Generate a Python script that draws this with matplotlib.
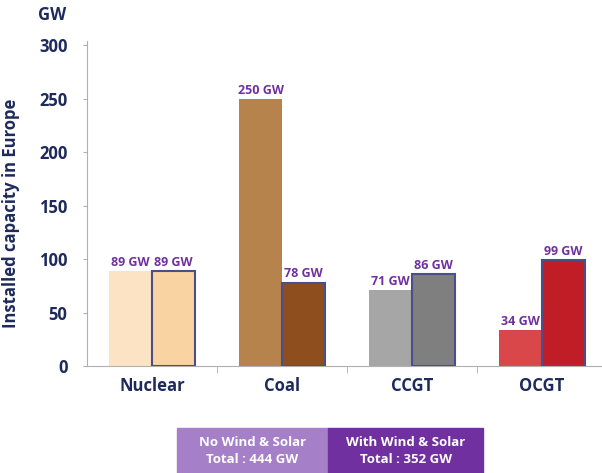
import matplotlib.pyplot as plt
from matplotlib.patches import Rectangle

plt.rcParams['font.family'] = ['Open Sans', 'DejaVu Sans']

categories = ['Nuclear', 'Coal', 'CCGT', 'OCGT']
no_wind_solar = [89, 250, 71, 34]
with_wind_solar = [89, 78, 86, 99]
colors_no = ['#FCE3C4', '#B5834B', '#A6A6A6', '#D9474A']
colors_with = ['#FAD3A3', '#8E4E1E', '#7F7F7F', '#C01D27']
totals = ['No Wind & Solar\nTotal : 444 GW', 'With Wind & Solar\nTotal : 352 GW']

navy = '#1F2A5C'
purple = '#7030A0'

fig = plt.figure(figsize=(6.02, 4.73), dpi=100)
ax = fig.add_axes([87 / 602, 1 - 366 / 473, 1 - 87 / 602, (366 - 41) / 473])

w = 0.33
x = range(len(categories))
for i in x:
    ax.bar(i - w / 2, no_wind_solar[i], w, color=colors_no[i], zorder=2)
    ax.bar(i + w / 2, with_wind_solar[i], w, color=colors_with[i],
           edgecolor='#4A4E8A', linewidth=1.5, zorder=3)
    ax.text(i - w / 2, no_wind_solar[i] + 2, f'{no_wind_solar[i]} GW', ha='center', va='bottom',
            color=purple, fontsize=9, fontweight='bold')
    ax.text(i + w / 2, with_wind_solar[i] + 2, f'{with_wind_solar[i]} GW', ha='center', va='bottom',
            color=purple, fontsize=9, fontweight='bold')

ax.set_xlim(-0.5, 3.46)
ax.set_ylim(0, 304)
ax.set_yticks([0, 50, 100, 150, 200, 250, 300])
ax.set_xticks(list(x))
ax.set_xticklabels(categories)
ax.set_xticks([0.5, 1.5, 2.5], minor=True)
ax.tick_params(axis='x', which='major', length=0, pad=8)
ax.tick_params(axis='x', which='minor', length=5, color='#B0B0B0', direction='out')
ax.tick_params(axis='y', length=3, color='#B0B0B0', pad=11)
for lab in ax.get_xticklabels() + ax.get_yticklabels():
    lab.set_fontweight('bold')
    lab.set_color(navy)
    lab.set_fontsize(12)

for s in ['top', 'right']:
    ax.spines[s].set_visible(False)
ax.spines['left'].set_color('#B0B0B0')
ax.spines['bottom'].set_color('#B0B0B0')

ax.set_ylabel('Installed capacity in Europe', fontsize=12, fontweight='bold', color=navy)
ax.yaxis.set_label_coords(-0.13, 0.47)
fig.text(52 / 602, 1 - 15 / 473, 'GW', ha='center', va='center', fontsize=12,
         fontweight='bold', color=navy)

# legend boxes at bottom
box_x = [177, 328]
box_w = [151, 155]
box_c = ['#A57FC8', purple]
for bx, bw, bc, t in zip(box_x, box_w, box_c, totals):
    fig.patches.append(Rectangle((bx / 602, 0), bw / 602, 45 / 473, transform=fig.transFigure,
                                 color=bc, zorder=1))
    fig.text((bx + bw / 2) / 602, 22 / 473, t, ha='center', va='center', color='white',
             fontsize=9.5, fontweight='bold', linespacing=1.4)

fig.savefig('out.png', dpi=100)
